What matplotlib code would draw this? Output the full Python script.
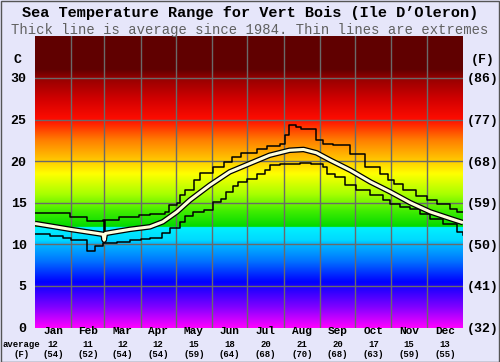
import numpy as np
import matplotlib
matplotlib.use("Agg")
import matplotlib.pyplot as plt
from matplotlib.colors import LinearSegmentedColormap
from matplotlib.transforms import blended_transform_factory

# === DATA ===

months = ["Jan", "Feb", "Mar", "Apr", "May", "Jun",
          "Jul", "Aug", "Sep", "Oct", "Nov", "Dec"]
month_starts = [0, 31, 59, 90, 120, 151, 181, 212, 243, 273, 304, 334, 365]
month_avg_c = [12, 11, 12, 12, 15, 18, 20, 21, 20, 17, 15, 13]
month_avg_f = [54, 52, 54, 54, 59, 64, 68, 70, 68, 63, 59, 55]

c_ticks = [0, 5, 10, 15, 20, 25, 30]
f_labels = ["(32)", "(41)", "(50)", "(59)", "(68)", "(77)", "(86)"]

avg_days = [0, 13, 30, 44, 58, 59, 60, 64, 81, 98, 109, 115, 121, 132, 149,
            166, 183, 200, 217, 229, 240, 252, 269, 286, 303, 320, 337, 354, 365]
avg_temps = [12.5, 12.2, 11.8, 11.5, 11.2, 10.5, 11.3, 11.4, 11.8, 12.1, 12.7,
             13.3, 13.9, 15.3, 17.1, 18.7, 19.7, 20.7, 21.3, 21.4, 21.0, 20.1,
             18.9, 17.5, 16.3, 15.0, 13.9, 13.1, 12.6]

max_days = [0, 30, 44, 58, 59, 60, 72, 89, 98, 111, 114, 121, 124, 128, 136,
            141, 152, 161, 168, 176, 189, 198, 209, 213, 217, 223, 227, 240,
            246, 254, 269, 281, 294, 301, 306, 314, 325, 334, 343, 354, 360, 365]
max_temps = [13.8, 13.3, 12.8, 12.9, 10.6, 12.9, 13.3, 13.5, 13.6, 13.9, 14.7,
             15.0, 15.9, 16.5, 17.7, 18.6, 19.3, 19.9, 20.5, 21.0, 21.5, 21.8,
             22.1, 23.1, 24.3, 24.1, 23.9, 22.5, 22.1, 21.9, 20.9, 19.3, 18.5,
             17.7, 17.2, 16.5, 15.8, 15.3, 14.9, 14.3, 13.9, 13.9]

min_days = [0, 13, 24, 31, 44, 51, 58, 70, 81, 90, 98, 108, 115, 124, 128,
            135, 144, 152, 159, 163, 169, 173, 181, 189, 196, 200, 209, 226,
            235, 246, 249, 256, 264, 274, 286, 297, 303, 311, 320, 328, 337,
            348, 360, 365]
min_temps = [11.2, 11.0, 10.8, 10.5, 9.2, 9.8, 10.1, 10.3, 10.5, 10.6, 10.8,
             11.4, 12.0, 12.7, 13.4, 13.9, 14.1, 15.1, 15.5, 16.3, 17.0, 17.5,
             17.9, 18.5, 18.9, 19.5, 19.7, 19.8, 19.7, 19.3, 18.5, 18.1, 17.1,
             16.5, 15.9, 15.3, 14.8, 14.5, 14.2, 13.7, 13.1, 12.5, 11.5, 11.1]

# === BACKGROUND GRADIENT (temperature colour scale, 0-35 C) ===

stops = [
    (0.0, (1.00, 0.00, 1.00)),
    (2.5, (0.50, 0.00, 1.00)),
    (5.5, (0.00, 0.00, 1.00)),
    (8.0, (0.00, 0.45, 1.00)),
    (10.2, (0.00, 0.75, 1.00)),
    (10.5, (0.00, 0.85, 1.00)),
    (12.1, (0.00, 0.95, 1.00)),
    (12.1, (0.00, 0.85, 0.00)),
    (14.0, (0.25, 0.93, 0.00)),
    (16.0, (0.65, 1.00, 0.00)),
    (18.5, (1.00, 1.00, 0.00)),
    (20.0, (1.00, 0.80, 0.00)),
    (22.5, (1.00, 0.50, 0.00)),
    (25.0, (1.00, 0.05, 0.00)),
    (27.5, (0.82, 0.00, 0.00)),
    (30.0, (0.58, 0.00, 0.00)),
    (31.0, (0.38, 0.00, 0.00)),
    (35.0, (0.38, 0.00, 0.00)),
]
cmap = LinearSegmentedColormap.from_list(
    "seatemp", [(v / 35.0, c) for v, c in stops], N=1024)

bg = "#e6e6fa"
fig = plt.figure(figsize=(5.0, 3.62), dpi=100, facecolor=bg)
ax = fig.add_axes([0.07, 0.0953, 0.856, 0.8044])

grad = np.linspace(0, 35, 800).reshape(-1, 1)
ax.imshow(grad, extent=[0, 365, 0, 35], origin="lower", aspect="auto",
          cmap=cmap, vmin=0, vmax=35, zorder=0)

ax.set_xlim(0, 365)
ax.set_ylim(0, 35)

for v in c_ticks[1:]:
    ax.axhline(v, color="#6a6a6a", lw=1.0, zorder=1)
for d in month_starts[1:-1]:
    ax.axvline(d, color="#6a6a6a", lw=1.0, zorder=1)

# extremes and average
ax.plot(max_days, max_temps, drawstyle="steps-post", color="black", lw=1.1,
        zorder=3)
ax.plot(min_days, min_temps, drawstyle="steps-post", color="black", lw=1.1,
        zorder=3)
ax.plot(avg_days, avg_temps, color="black", lw=4.0, zorder=4,
        solid_capstyle="butt")
ax.plot(avg_days, avg_temps, color="#ffffdc", lw=2.2, zorder=5,
        solid_capstyle="butt")

for s in ax.spines.values():
    s.set_visible(False)

mono = "Liberation Mono"

ax.set_xticks([])
ax.set_yticks(c_ticks)
ax.set_yticklabels([str(v) for v in c_ticks], fontfamily=mono,
                   fontweight="bold", fontsize=9.5)
ax.tick_params(axis="y", length=0, pad=6)

ax2 = ax.twinx()
ax2.set_ylim(0, 35)
ax2.set_yticks(c_ticks)
ax2.set_yticklabels(f_labels, fontfamily=mono, fontweight="bold", fontsize=9.5)
ax2.tick_params(axis="y", length=0, pad=3)
for s in ax2.spines.values():
    s.set_visible(False)

# unit labels
fig.text(0.036, 0.833, "C", fontfamily=mono, fontweight="bold", fontsize=9.5,
         ha="center", va="center")
fig.text(0.965, 0.833, "(F)", fontfamily=mono, fontweight="bold",
         fontsize=9.5, ha="center", va="center")

# month labels with averages (rows at ~331, 344, 354.5 px from the top)
trans = blended_transform_factory(ax.transData, fig.transFigure)
row_month, row_c, row_f = 0.0856, 0.0497, 0.0207
for i, m in enumerate(months):
    mid = (month_starts[i] + month_starts[i + 1]) / 2
    ax.text(mid, row_month, m, transform=trans, fontfamily=mono,
            fontweight="bold", fontsize=8, ha="center", va="center")
    ax.text(mid, row_c, str(month_avg_c[i]), transform=trans,
            fontfamily=mono, fontweight="bold", fontsize=6.5, ha="center",
            va="center")
    ax.text(mid, row_f, "(%d)" % month_avg_f[i], transform=trans,
            fontfamily=mono, fontweight="bold", fontsize=6.5, ha="center",
            va="center")
fig.text(0.043, row_c, "average", fontfamily=mono, fontweight="bold",
         fontsize=6.5, ha="center", va="center")
fig.text(0.043, row_f, "(F)", fontfamily=mono, fontweight="bold",
         fontsize=6.5, ha="center", va="center")

# titles
fig.text(0.5, 0.963, "Sea Temperature Range for Vert Bois (Ile D\u2019Oleron)",
         fontfamily=mono, fontweight="bold", fontsize=11, ha="center",
         va="center")
fig.text(0.5, 0.918,
         "Thick line is average since 1984. Thin lines are extremes",
         fontfamily=mono, fontsize=10, color="#606060", ha="center",
         va="center")

# outer border
fig.patches.append(plt.Rectangle((0.001, 0.001), 0.997, 0.997,
                                 transform=fig.transFigure, fill=False,
                                 edgecolor="#555555", lw=1.0))

fig.savefig("out.png", dpi=100, facecolor=bg)
